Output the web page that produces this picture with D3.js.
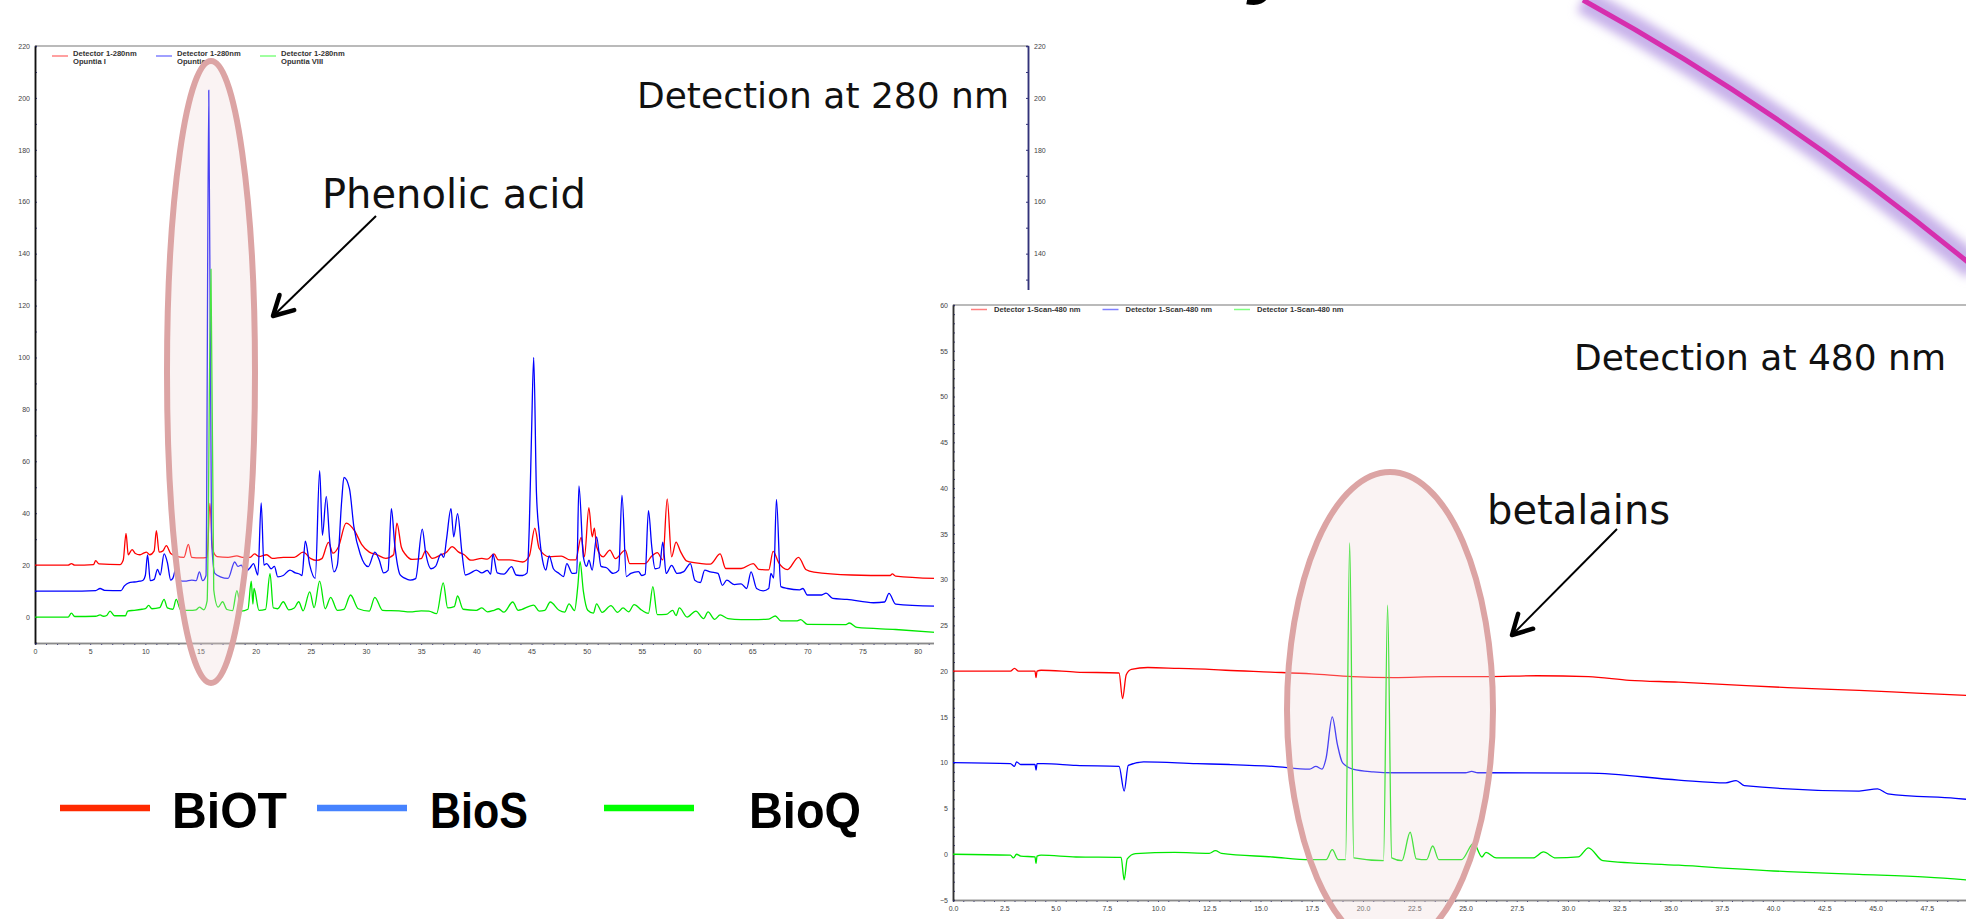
<!DOCTYPE html>
<html>
<head>
<meta charset="utf-8">
<script src="https://cdn.jsdelivr.net/npm/d3@7"></script>
<style>
body { margin:0; background:#fff; }
svg { display:block; }
</style>
</head>
<body>
<script>
// chromatogram at 280 nm : [minutes, mAU]
var p280Red = [[0,20],[3.0,20],[3.3,20.6],[3.6,20],[5.3,20.2],[5.5,21.7],[5.8,20.5],[7.7,20.2],[8.0,22],[8.25,32.2],[8.45,24],[8.8,26],[9.1,24.5],[9.5,24],[9.8,24.5],[10.1,25],[10.4,24],[10.8,25.5],[11.0,33.3],[11.25,25],[11.6,25.5],[11.9,27.5],[12.3,24.5],[12.8,23.5],[13.5,23],[13.9,28],[14.2,23],[15.0,22.8],[15.6,23],[15.85,43.8],[16.1,26],[16.5,23.3],[17.5,23],[18.3,23.6],[18.8,23],[19.5,23],[19.9,24.3],[20.3,23.3],[21.0,24],[21.5,22.6],[22.5,23],[23.5,23],[24.3,25],[25.0,22.5],[25.5,21.8],[26.0,22.5],[26.6,28.8],[27.0,24.6],[27.5,27],[28.2,36.2],[29.0,33],[29.6,28],[30.3,25],[31.0,24],[31.8,22.6],[32.5,24],[32.8,36.2],[33.2,27],[33.6,24],[34.2,22.2],[35.0,22.5],[35.4,25.5],[36.0,22.6],[36.8,24],[37.3,25],[37.8,27.1],[38.4,25],[38.9,24],[39.5,21.9],[40.5,22.6],[41.0,22.3],[41.6,24.3],[42.0,22],[43.0,22],[44.2,21.2],[44.8,23.5],[45.3,34.2],[45.7,26.4],[46.6,23.2],[47.7,23.5],[48.5,22],[49.0,22],[49.5,30.7],[49.8,23.2],[50.2,42.1],[50.5,30.9],[50.7,34.2],[50.9,27.1],[51.5,23.2],[52.1,25.8],[52.6,22.5],[53.5,25.8],[53.9,20.6],[55.3,20.6],[55.9,23.5],[56.4,24.8],[56.9,22],[57.3,45.5],[57.7,23.2],[58.1,28.9],[58.5,25.3],[59.1,21.5],[60.4,20.6],[61.2,20.4],[62.1,24.3],[62.6,18.7],[64.0,18.7],[65.1,20.6],[65.6,18.4],[66.5,18.2],[66.9,25.3],[67.4,21],[68.2,18.3],[69.2,23],[69.9,18.2],[70.6,17.3],[74.0,16.2],[77.5,16],[77.7,16.6],[78.0,15.8],[81.6,14.9]]
var p280Blue = [[0,10],[3.0,10],[5.5,10.2],[5.9,11],[6.3,10.3],[7.8,10.2],[8.1,12],[8.5,13.2],[9.0,13.5],[9.5,13.8],[9.8,14.2],[10.0,16],[10.2,23.9],[10.45,14],[10.8,14.5],[11.1,18.4],[11.35,16.2],[11.7,24.3],[12.0,21],[12.3,14.2],[12.5,15],[12.8,19],[13.1,14],[13.6,13.8],[14.2,14.2],[14.6,14],[14.9,17.4],[15.2,14],[15.5,16],[15.75,203],[16.0,30],[16.3,16.8],[16.8,15.5],[17.5,14.9],[18.1,21.2],[18.4,19.5],[18.7,20],[19.0,17.4],[19.5,19],[19.8,20.6],[20.2,16.2],[20.5,44],[20.75,20],[21.0,20.6],[21.4,18.6],[21.7,19.5],[22.0,15.5],[22.5,16],[23.1,18.1],[23.6,17],[24.0,16.5],[24.2,16],[24.5,29.2],[24.9,20],[25.4,14.9],[25.8,56.4],[26.05,31.5],[26.4,46.5],[26.7,30],[27.1,17.4],[27.4,20],[27.8,45],[28.0,53.8],[28.5,49.5],[28.9,34.8],[29.5,24],[30.2,19.4],[30.8,25],[31.2,22],[31.6,17],[32.0,18],[32.3,41.8],[32.6,28],[33.1,16.2],[33.5,15],[34.0,14.2],[34.5,14.8],[35.1,33.9],[35.4,25],[35.9,18.6],[36.3,19.5],[36.8,24.3],[37.05,23],[37.3,30],[37.7,41.8],[37.95,30.9],[38.3,39.8],[38.7,24.6],[39.0,16.2],[39.5,17],[40.0,18.1],[40.5,17],[41.0,18],[41.3,16.5],[41.5,24.2],[41.9,17],[42.5,16.5],[43.2,19.4],[43.6,16.2],[44.2,16],[44.6,17],[44.8,34.8],[45.0,70],[45.2,100],[45.45,47.7],[45.7,32.3],[46.0,21.9],[46.3,18.1],[46.6,23.6],[47.0,18.5],[47.5,16.8],[47.9,15.6],[48.2,20.6],[48.7,16.8],[49.1,17],[49.3,50.5],[49.7,23.2],[50.0,19.5],[50.2,21.9],[50.5,18.1],[50.9,30.9],[51.3,19.5],[51.8,19],[52.4,16.8],[52.9,18],[53.2,47],[53.6,15.6],[54.0,16.8],[54.7,17.5],[55.0,16],[55.3,16.5],[55.6,41],[55.9,27.1],[56.2,18.6],[56.6,19],[56.9,28.9],[57.2,16.8],[57.7,19.9],[58.2,16.8],[58.8,17.5],[59.4,20.6],[59.8,14.2],[60.3,13.3],[60.7,18.1],[61.2,17.4],[61.9,16.8],[62.3,12.2],[62.7,14.2],[63.4,12.5],[64.0,12.8],[64.5,11],[64.9,17.4],[65.4,11],[66.0,10.1],[66.5,11],[66.7,16.8],[66.95,15],[67.2,45.3],[67.6,11.7],[68.2,11],[69.3,10.5],[69.6,11],[70.0,8.5],[71.3,8.5],[71.7,9.2],[72.3,7.2],[73.6,6.8],[76.0,5.5],[77.0,5.8],[77.4,9.1],[78.0,5],[81.6,4.2]]
var p280Green = [[0,0],[3.0,0],[3.3,1.5],[3.6,0.2],[5.5,0.3],[5.9,0.8],[6.2,0.3],[6.5,0.6],[6.8,2.3],[7.2,0.5],[8.2,0.5],[8.4,2.3],[9.0,2.6],[9.7,3.0],[10.0,3.2],[10.3,4.5],[10.6,3.2],[11.3,3.6],[11.7,6.8],[12.0,3.5],[12.5,3.0],[12.8,6.8],[13.2,2.8],[14.0,2.6],[14.6,2.8],[14.9,3.8],[15.3,2.8],[15.6,6.2],[15.95,134],[16.2,10.5],[16.6,3.8],[17.0,5.9],[17.4,2.9],[17.9,2.5],[18.3,10.2],[18.7,2.3],[19.3,3],[19.6,13.8],[19.75,5],[19.85,11],[20.3,2.6],[20.9,3.0],[21.3,16.7],[21.6,3.5],[22.0,3.2],[22.5,5.9],[23.0,2.8],[23.5,3.5],[23.9,5.9],[24.3,2.4],[24.9,9.7],[25.3,3.6],[25.8,13.8],[26.3,3.2],[26.8,7.6],[27.4,2.6],[28.0,3.0],[28.6,8.5],[29.3,3.2],[30.3,2.3],[30.8,7.6],[31.5,2.6],[33.0,2.4],[34.0,2.0],[35.0,2.4],[35.7,2.3],[36.4,1.3],[37.0,13.2],[37.4,3.5],[38.0,4.0],[38.3,8.1],[38.8,3.0],[40.0,2.6],[40.5,3.5],[41.0,2.0],[41.6,2.6],[42.0,3.2],[42.5,1.9],[43.3,5.8],[43.8,2.6],[45.2,4.6],[45.7,2.3],[46.2,2.6],[46.7,5.8],[47.5,2.6],[48.0,1.9],[48.4,5.1],[48.9,2.5],[49.2,12],[49.4,21.3],[49.7,10],[50.1,2.6],[50.6,1.5],[50.9,5.1],[51.4,1.8],[52.2,4.4],[52.8,1.8],[53.3,3.5],[53.8,2.0],[54.3,4.8],[55.0,2.6],[55.6,1.4],[56.0,11.7],[56.4,0.9],[57.2,1.0],[57.8,2.6],[58.1,0.6],[58.4,3.5],[59.1,0],[59.9,2.3],[60.6,-0.6],[61.0,2.0],[61.6,-0.9],[62.1,0.8],[62.8,-0.6],[64.0,-1.0],[65.0,-1.0],[66.5,-0.8],[67.1,0.4],[67.6,-1.5],[69.0,-1.5],[69.4,-1.0],[70.0,-2.8],[73.5,-2.9],[73.8,-2.3],[74.5,-4.0],[78,-4.8],[81.6,-5.9]]

// chromatogram at 480 nm
var p480Red = [[0,20],[2.8,20],[3.0,20.3],[3.2,20],[4.0,20],[4.05,19.3],[4.1,20],[4.3,20.1],[6,19.9],[8.1,19.8],[8.27,17],[8.45,19.6],[8.7,20.2],[9.5,20.4],[11,20.3],[12.5,20.2],[13.3,20.1],[15.5,19.9],[17.5,19.7],[19.5,19.4],[21.5,19.3],[23.8,19.4],[26,19.4],[28.5,19.5],[31.0,19.4],[33.0,19],[35.4,18.8],[38,18.5],[40.7,18.2],[44.2,17.9],[47,17.6],[50,17.3]]
var p480Blue = [[0,10],[2.8,9.9],[3.0,9.6],[3.1,10.1],[3.3,9.8],[4.0,9.8],[4.05,9.2],[4.1,9.9],[4.4,9.9],[6,9.7],[8.1,9.6],[8.35,6.9],[8.55,9.7],[9.3,10.1],[11.9,9.9],[13.5,9.8],[15.6,9.6],[17.4,9.3],[17.7,9.6],[18.0,9.3],[18.2,10.5],[18.5,15],[18.75,12],[19.0,10],[19.5,9.3],[20.5,9.0],[21.5,8.9],[25.0,8.9],[25.3,9.05],[25.6,8.9],[31.0,8.86],[35.4,8.1],[37.7,7.8],[38.2,8.05],[38.6,7.5],[44.2,6.9],[45.1,7.15],[45.6,6.6],[48.9,6.1],[50,5.9]]
var p480Green = [[0,0],[2.8,-0.1],[2.95,-0.4],[3.1,0],[3.3,-0.2],[4.0,-0.3],[4.05,-1.0],[4.1,-0.2],[4.3,-0.1],[6,-0.3],[8.2,-0.35],[8.35,-2.8],[8.5,-0.5],[8.9,0.07],[10.8,0.2],[12.5,0.1],[12.8,0.4],[13.1,0.1],[15.6,-0.3],[17.4,-0.6],[18.2,-0.6],[18.5,0.5],[18.8,-0.6],[19.15,-0.6],[19.35,34],[19.55,-0.4],[21.0,-0.7],[21.2,27.2],[21.4,-0.4],[21.9,-0.7],[22.3,2.4],[22.6,-0.5],[23.1,-0.6],[23.4,0.9],[23.7,-0.6],[24.8,-0.6],[25.4,1.2],[25.8,-0.3],[26.0,0.2],[26.5,-0.4],[28.3,-0.4],[28.8,0.25],[29.4,-0.4],[30.5,-0.3],[31.0,0.7],[31.7,-0.7],[35.4,-1.2],[40.7,-1.9],[44.2,-2.2],[47.5,-2.5],[50,-2.9]]

var p280Ticks = d3.range(0, 81, 5)
var p280RightTicks = d3.range(140, 221, 20)
var p480Ticks = d3.range(0, 50, 2.5)
var p280Legend = [["Detector 1-280nm", "Opuntia I"], ["Detector 1-280nm", "Opuntia III"], ["Detector 1-280nm", "Opuntia VIII"]]
var p480Legend = ["Detector 1-Scan-480 nm", "Detector 1-Scan-480 nm", "Detector 1-Scan-480 nm"]
var sampleNames = ["BiOT", "BioS", "BioQ"]

var traceColors = ["#ff0000", "#0000ff", "#00e800"]
var swatchColors = ["#ff8080", "#8080ff", "#80ff80"]
var sampleColors = ["#ff2a00", "#4683ff", "#00ff00"]

var svg = d3.select("body").append("svg")
	.attr("width", 1966)
	.attr("height", 919)

function styleAxis(g, lineColor) {
	g.select(".domain").attr("stroke", lineColor).attr("stroke-width", 1.5)
	g.selectAll(".tick line").attr("stroke", "#33337a")
	g.selectAll("text")
		.attr("font-family", "Liberation Sans, Arial, sans-serif")
		.attr("font-size", 7)
		.attr("fill", "#444")
}

function drawTraces(g, series, x, y) {
	var line = d3.line()
		.x(function(d) { return x(d[0]) })
		.y(function(d) { return y(d[1]) })
		.curve(d3.curveMonotoneX)
	g.selectAll("path.trace")
		.data(series)
		.enter()
		.append("path")
		.attr("class", "trace")
		.attr("d", line)
		.attr("fill", "none")
		.attr("stroke", function(d, i) { return traceColors[i] })
		.attr("stroke-width", 1.3)
		.attr("stroke-linejoin", "round")
}

// ---------- panel 280 nm ----------
var x1 = d3.scaleLinear().domain([0, 90]).range([35, 1028])
var y1 = d3.scaleLinear().domain([-10, 220]).range([643, 46])
var p1 = svg.append("g")

p1.append("line").attr("x1", 35).attr("x2", 1028).attr("y1", 46).attr("y2", 46)
	.attr("stroke", "#777").attr("stroke-width", 1.2)

p1.append("g").attr("transform", "translate(0,643)")
	.call(d3.axisBottom(x1).tickValues(d3.range(0, 91, 1)).tickSize(2).tickFormat(""))
	.call(styleAxis, "#8a8a8a")
p1.append("g").attr("transform", "translate(0,643)")
	.call(d3.axisBottom(x1).tickValues(p280Ticks).tickSize(0).tickPadding(6))
	.call(styleAxis, "#8a8a8a")

p1.append("g").attr("transform", "translate(35,0)")
	.call(d3.axisLeft(y1).tickValues(d3.range(-10, 221, 10)).tickSize(-2).tickFormat(""))
	.call(styleAxis, "#111")
p1.append("g").attr("transform", "translate(35,0)")
	.call(d3.axisLeft(y1).tickValues(d3.range(0, 221, 20)).tickSize(0).tickPadding(5))
	.call(styleAxis, "#111")

p1.append("g").attr("transform", "translate(1028,0)")
	.call(d3.axisRight(y1).tickValues(d3.range(130, 221, 10)).tickSize(-2).tickFormat(""))
	.call(styleAxis, "#33337a")
p1.append("g").attr("transform", "translate(1028,0)")
	.call(d3.axisRight(y1).tickValues(p280RightTicks).tickSize(0).tickPadding(6))
	.call(styleAxis, "#33337a")

var leg1 = p1.selectAll("g.leg").data(p280Legend).enter().append("g")
	.attr("transform", function(d, i) { return "translate(" + (52 + i * 104) + ",0)" })
leg1.append("line").attr("x1", 0).attr("x2", 16).attr("y1", 56).attr("y2", 56)
	.attr("stroke", function(d, i) { return swatchColors[i] }).attr("stroke-width", 1.5)
leg1.append("text").attr("x", 21).attr("y", 55.5).text(function(d) { return d[0] })
leg1.append("text").attr("x", 21).attr("y", 64).text(function(d) { return d[1] })
leg1.selectAll("text").attr("font-family", "Liberation Sans, Arial, sans-serif")
	.attr("font-size", 7.6).attr("font-weight", "bold").attr("fill", "#333")

drawTraces(p1, [p280Red, p280Blue, p280Green], x1, y1)

// ellipse round the phenolic acid peak
svg.append("ellipse")
	.attr("cx", 211).attr("cy", 372).attr("rx", 44).attr("ry", 311)
	.attr("fill", "#eed6d6").attr("fill-opacity", 0.3)
	.attr("stroke", "#dca4a4").attr("stroke-width", 6)

// ---------- panel 480 nm ----------
var x2 = d3.scaleLinear().domain([0, 50]).range([953, 1978])
var y2 = d3.scaleLinear().domain([-5, 60]).range([900, 305])
var p2 = svg.append("g")

p2.append("rect").attr("x", 934).attr("y", 290).attr("width", 1040).attr("height", 640)
	.attr("fill", "#fff")
p2.append("line").attr("x1", 953).attr("x2", 1966).attr("y1", 305).attr("y2", 305)
	.attr("stroke", "#777").attr("stroke-width", 1.2)

p2.append("g").attr("transform", "translate(0,900)")
	.call(d3.axisBottom(x2).tickValues(d3.range(0, 50.1, 0.5)).tickSize(2).tickFormat(""))
	.call(styleAxis, "#8a8a8a")
p2.append("g").attr("transform", "translate(0,900)")
	.call(d3.axisBottom(x2).tickValues(p480Ticks).tickSize(0).tickPadding(6).tickFormat(d3.format(".1f")))
	.call(styleAxis, "#8a8a8a")
p2.append("g").attr("transform", "translate(953,0)")
	.call(d3.axisLeft(y2).tickValues(d3.range(-5, 61, 1)).tickSize(-2).tickFormat(""))
	.call(styleAxis, "#333")
p2.append("g").attr("transform", "translate(953,0)")
	.call(d3.axisLeft(y2).tickValues(d3.range(-5, 61, 5)).tickSize(0).tickPadding(5))
	.call(styleAxis, "#333")

var leg2 = p2.selectAll("g.leg").data(p480Legend).enter().append("g")
	.attr("transform", function(d, i) { return "translate(" + (971 + i * 131.5) + ",0)" })
leg2.append("line").attr("x1", 0).attr("x2", 16).attr("y1", 309.5).attr("y2", 309.5)
	.attr("stroke", function(d, i) { return swatchColors[i] }).attr("stroke-width", 1.5)
leg2.append("text").attr("x", 23).attr("y", 312).text(function(d) { return d })
	.attr("font-family", "Liberation Sans, Arial, sans-serif")
	.attr("font-size", 7.6).attr("font-weight", "bold").attr("fill", "#333")

drawTraces(p2, [p480Red, p480Blue, p480Green], x2, y2)

svg.append("ellipse")
	.attr("cx", 1390).attr("cy", 710).attr("rx", 103).attr("ry", 238)
	.attr("fill", "#eed6d6").attr("fill-opacity", 0.3)
	.attr("stroke", "#dca4a4").attr("stroke-width", 6)

// ---------- annotations ----------
var note = svg.append("g").attr("font-family", "DejaVu Sans, Verdana, sans-serif").attr("fill", "#111")
note.append("text").attr("x", 1009).attr("y", 108).attr("text-anchor", "end")
	.attr("font-size", 36).text("Detection at 280 nm")
note.append("text").attr("x", 1946).attr("y", 370).attr("text-anchor", "end")
	.attr("font-size", 36).text("Detection at 480 nm")
note.append("text").attr("x", 322).attr("y", 208).attr("font-size", 40).text("Phenolic acid")
note.append("text").attr("x", 1487).attr("y", 524).attr("font-size", 40).text("betalains")

function arrow(x0, y0, x1, y1) {
	var a = Math.atan2(y1 - y0, x1 - x0)
	var len = 22
	var h = "M" + (x1 - len * Math.cos(a - 0.5)) + "," + (y1 - len * Math.sin(a - 0.5)) +
		"L" + x1 + "," + y1 +
		"L" + (x1 - len * Math.cos(a + 0.5)) + "," + (y1 - len * Math.sin(a + 0.5))
	svg.append("line").attr("x1", x0).attr("y1", y0).attr("x2", x1 - 3 * Math.cos(a)).attr("y2", y1 - 3 * Math.sin(a))
		.attr("stroke", "#000").attr("stroke-width", 2)
	svg.append("path").attr("d", h).attr("fill", "none")
		.attr("stroke", "#000").attr("stroke-width", 4.5)
		.attr("stroke-linecap", "round").attr("stroke-linejoin", "round")
}
arrow(376, 216, 273, 316)
arrow(1617, 529, 1512, 635)

// ---------- sample legend ----------
var sl = svg.append("g")
var slX = [60, 317, 604]
var slText = [172, 430, 749]
var slWidth = [115, 98, 112]
sl.selectAll("line").data(sampleNames).enter().append("line")
	.attr("x1", function(d, i) { return slX[i] })
	.attr("x2", function(d, i) { return slX[i] + 90 })
	.attr("y1", 808).attr("y2", 808)
	.attr("stroke", function(d, i) { return sampleColors[i] })
	.attr("stroke-width", 6.5)
sl.selectAll("text").data(sampleNames).enter().append("text")
	.attr("x", function(d, i) { return slText[i] })
	.attr("y", 828)
	.attr("textLength", function(d, i) { return slWidth[i] })
	.attr("lengthAdjust", "spacingAndGlyphs")
	.attr("font-family", "Liberation Sans, Arial, sans-serif")
	.attr("font-weight", "bold").attr("font-size", 50)
	.attr("fill", "#000")
	.text(function(d) { return d })

// ---------- decoration at top ----------
var defs = svg.append("defs")
defs.append("filter").attr("id", "glow").attr("x", "-20%").attr("y", "-20%").attr("width", "140%").attr("height", "140%")
	.append("feGaussianBlur").attr("stdDeviation", 5)
var arc = "M1583,0 Q1786,112 1975,268"
svg.append("path").attr("d", arc).attr("fill", "none")
	.attr("stroke", "#c8b2ea").attr("stroke-width", 26).attr("filter", "url(#glow)")
svg.append("path").attr("d", arc).attr("fill", "none")
	.attr("stroke", "#d62fae").attr("stroke-width", 5)

svg.append("text").attr("x", 1250).attr("y", -14)
	.attr("font-family", "Liberation Sans, Arial, sans-serif")
	.attr("font-weight", "bold").attr("font-style", "italic").attr("font-size", 90)
	.attr("fill", "#000").text("y")
</script>
</body>
</html>
